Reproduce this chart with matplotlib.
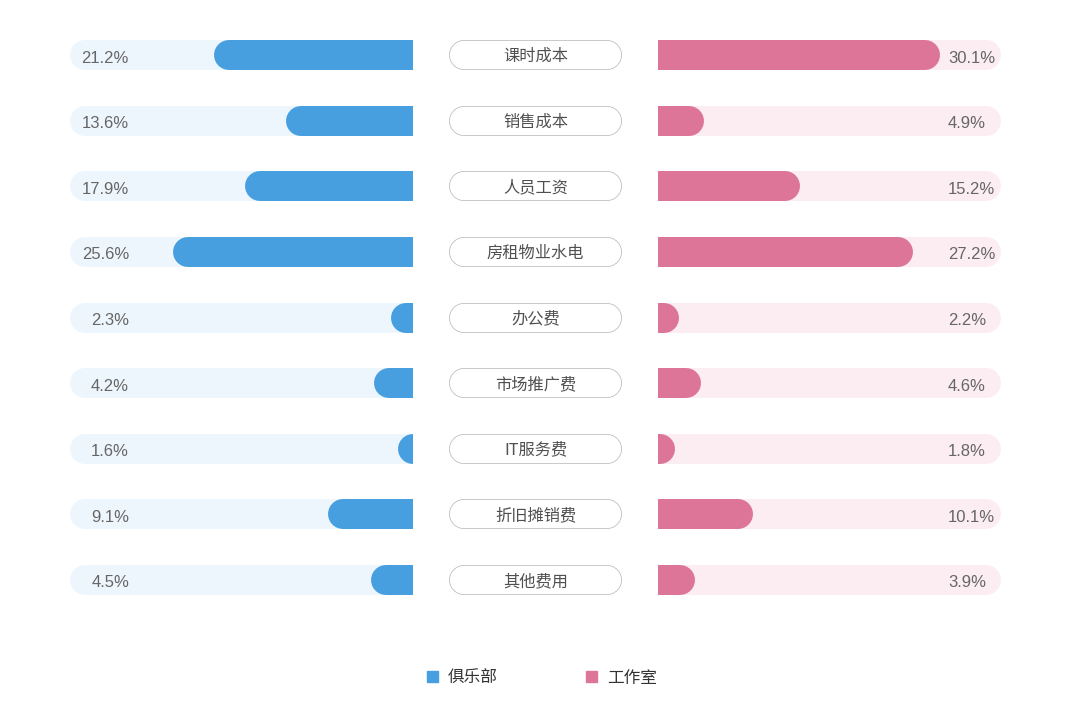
import matplotlib
matplotlib.use("Agg")
import matplotlib.pyplot as plt
from matplotlib.patches import Rectangle
from matplotlib.lines import Line2D

plt.rcParams['font.family'] = ['Noto Sans CJK SC', 'DejaVu Sans']

categories = ["课时成本", "销售成本", "人员工资", "房租物业水电", "办公费",
              "市场推广费", "IT服务费", "折旧摊销费", "其他费用"]
club = [21.2, 13.6, 17.9, 25.6, 2.3, 4.2, 1.6, 9.1, 4.5]
studio = [30.1, 4.9, 15.2, 27.2, 2.2, 4.6, 1.8, 10.1, 3.9]
series_names = ["俱乐部", "工作室"]

BLUE = "#479fe0"
BLUE_BG = "#eef6fd"
PINK = "#dc7598"
PINK_BG = "#fcedf2"
NUM_TXT = "#666666"
LAB_TXT = "#505050"
XMAX = 36.6

W, H = 1080, 721
fig = plt.figure(figsize=(W / 100, H / 100), dpi=100)
fig.patch.set_facecolor("white")

top_px, bot_px = 22.2, 612.8
n = len(categories)
row_px = (bot_px - top_px) / n

def fax(x0, x1):
    return fig.add_axes([x0 / W, (H - bot_px) / H, (x1 - x0) / W, (bot_px - top_px) / H])

axL = fax(70, 413)
axM = fax(449, 622)
axR = fax(658, 1001)
for ax in (axL, axM, axR):
    ax.set_ylim(n - 0.5, -0.5)
    ax.axis("off")
axL.set_xlim(XMAX, 0)
axR.set_xlim(0, XMAX)
axM.set_xlim(0, 173)

bar_px = 30
lw_pt = bar_px * 72 / 100
r = (bar_px / 2) / 343 * XMAX  # cap radius in data units
dy_num = 3.0 / row_px
dy_lab = 1.5 / row_px

for i in range(n):
    # backgrounds (rounded outer end, flat inner end clipped at axes edge)
    for ax, bg in ((axL, BLUE_BG), (axR, PINK_BG)):
        ax.add_line(Line2D([XMAX - r, -r], [i, i], lw=lw_pt, color=bg,
                           solid_capstyle="round", zorder=1))
    # value bars
    for ax, v, c in ((axL, club[i], BLUE), (axR, studio[i], PINK)):
        s = max(v - r, 0)
        ax.add_line(Line2D([s, -r], [i, i], lw=lw_pt, color=c,
                           solid_capstyle="round", zorder=2))
    # value labels
    axL.text((129 - 70) / 343, i + dy_num, f"{club[i]}%", transform=axL.get_yaxis_transform(),
             ha="right", va="center", fontsize=12, color=NUM_TXT, zorder=3,
             family="Liberation Sans")
    axR.text((948 - 658) / 343, i + dy_num, f"{studio[i]}%", transform=axR.get_yaxis_transform(),
             ha="left", va="center", fontsize=12, color=NUM_TXT, zorder=3,
             family="Liberation Sans")
    # center pill
    axM.add_line(Line2D([15, 158], [i, i], lw=30 * 72 / 100, color="#bdbdbd",
                        solid_capstyle="round", zorder=1, clip_on=False))
    axM.add_line(Line2D([15, 158], [i, i], lw=28.4 * 72 / 100, color="white",
                        solid_capstyle="round", zorder=2, clip_on=False))
    axM.text(86.5, i + dy_lab, categories[i], ha="center", va="center", fontsize=11.7,
             color=LAB_TXT, zorder=3)

# legend
for x, c, name in ((427, BLUE, series_names[0]), (586, PINK, series_names[1])):
    fig.patches.append(Rectangle((x / W, (H - 682) / H), 11 / W, 11 / H,
                                 transform=fig.transFigure, color=c, figure=fig))
    fig.text((x + 21) / W, (H - 678) / H, name, ha="left", va="center",
             fontsize=12, color="#333333")

fig.savefig("out.png", dpi=100, facecolor="white")
